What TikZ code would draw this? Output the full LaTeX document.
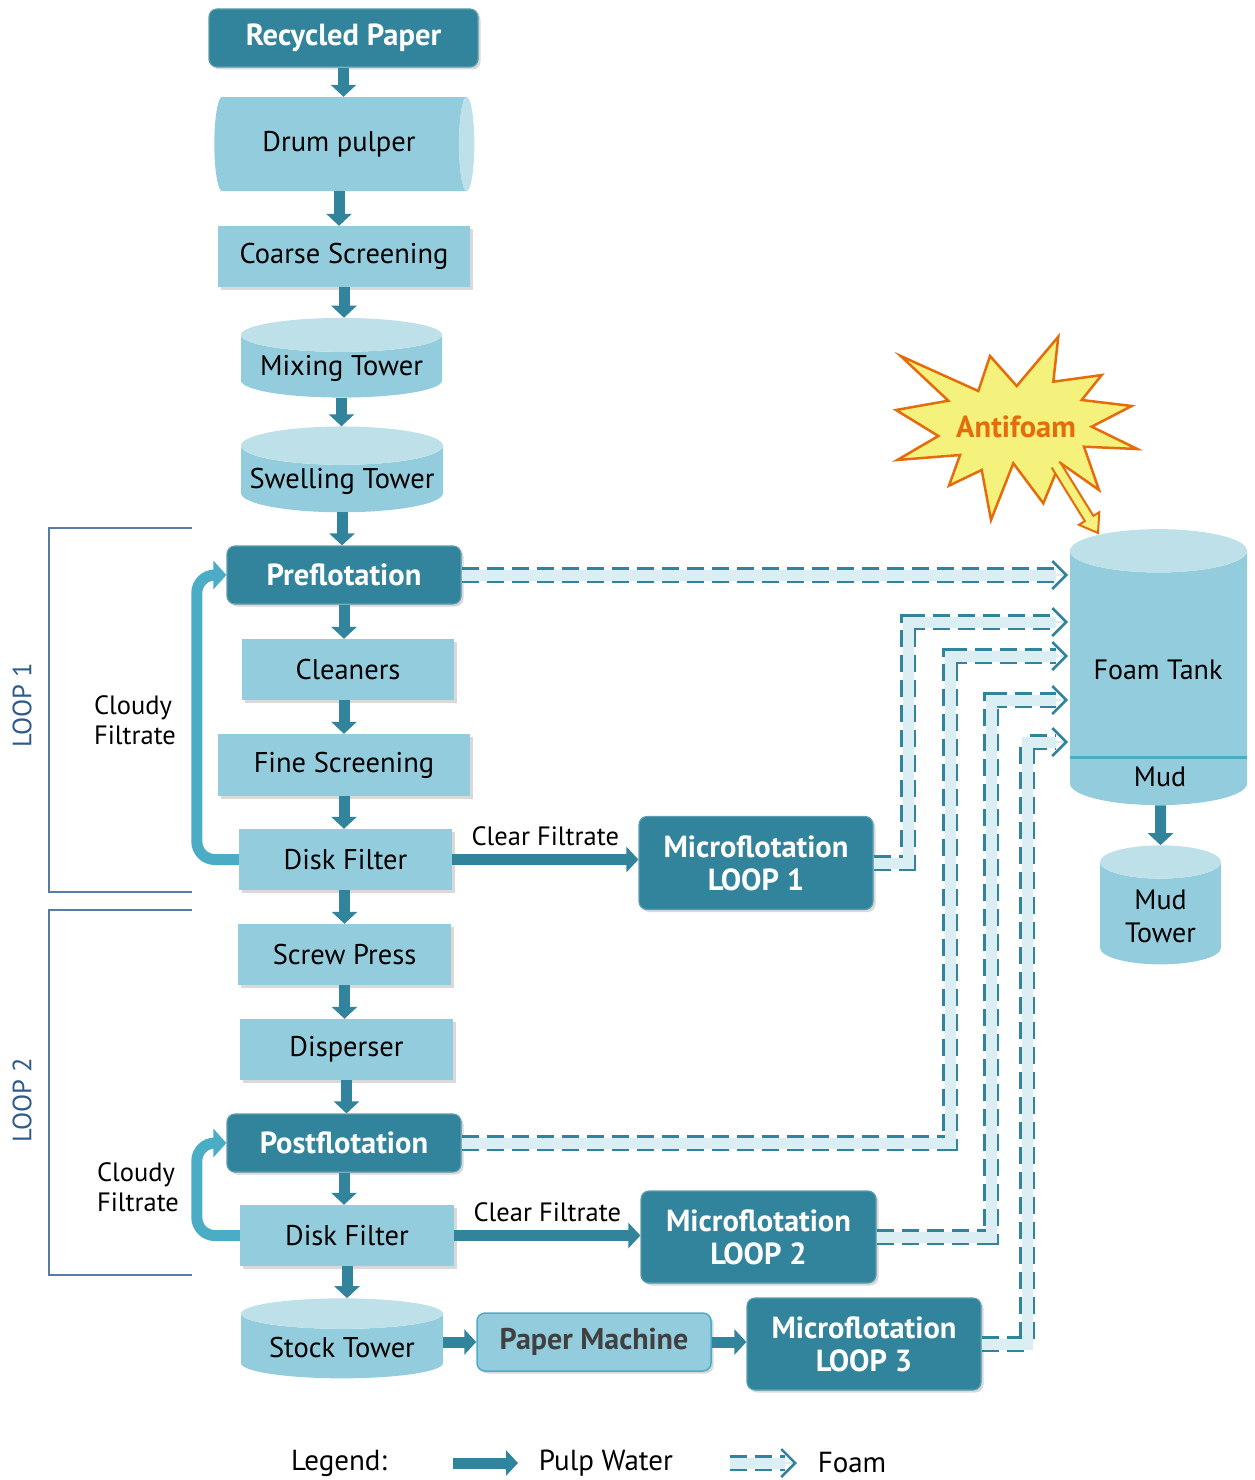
\documentclass[tikz,border=0pt]{standalone}
\usepackage{fontspec}
\setmainfont{PT Sans}
\usetikzlibrary{shapes.geometric,shadows,arrows.meta,calc}
\definecolor{pulpteal}{HTML}{31849B}
\definecolor{boxaqua}{HTML}{93CDDD}
\definecolor{topaqua}{HTML}{BEE0E9}
\definecolor{cloudaqua}{HTML}{4BACC6}
\definecolor{foamfill}{HTML}{DAEEF3}
\definecolor{loopblue}{HTML}{2E5A8C}
\definecolor{burstfill}{HTML}{F4F17C}
\definecolor{burstline}{HTML}{E46C0A}

\tikzset{
  boxshadow/.style={drop shadow={shadow xshift=2.5pt, shadow yshift=-2.5pt, opacity=.3}},
  darkbox/.style={rectangle, rounded corners=8pt, fill=pulpteal, draw=pulpteal!80!white, line width=1.2pt,
    text=white, align=center, font=\fontsize{30.5}{33}\selectfont\bfseries, boxshadow},
  lightbox/.style={rectangle, fill=boxaqua, font=\fontsize{28.5}{33}\selectfont, boxshadow},
  tower/.style={cylinder, shape border rotate=90, cylinder uses custom fill, cylinder body fill=boxaqua,
    cylinder end fill=topaqua, align=center, font=\fontsize{28.5}{33}\selectfont},
  pulp/.style={draw=pulpteal, line width=11pt, -{Triangle[length=12pt, width=25pt]}},
  cloudy/.style={draw=cloudaqua, line width=11pt, rounded corners=18pt, -{Triangle[length=13pt, width=28pt]}},
  foam/.style={draw=pulpteal, line width=16pt, dash pattern=on 17pt off 8pt, line join=miter, shorten >=12pt,
    preaction={draw=foamfill, solid},
    postaction={draw=foamfill, solid, line width=11pt},
    postaction={draw=foamfill, solid, line width=2.5pt, shorten >=0pt,
      -{Straight Barb[color=pulpteal, length=14pt, width=28pt]}}},
  smalltext/.style={font=\fontsize{26.5}{30}\selectfont},
  legendtext/.style={font=\fontsize{29}{33}\selectfont},
  bracket/.style={draw=loopblue!80!white, line width=1.3pt},
  looplabel/.style={rotate=90, text=loopblue, font=\fontsize{26.5}{30}\selectfont},
}

\begin{document}
\begin{tikzpicture}[x=1pt, y=-1pt]
\useasboundingbox (0,0) rectangle (1255,1480);

% main line
\node[darkbox, minimum width=269, minimum height=58] (paper) at (343.5,38) {Recycled Paper};
\node[cylinder, cylinder uses custom fill, cylinder body fill=boxaqua, cylinder end fill=topaqua, aspect=0.47,
  minimum width=94, minimum height=260, font=\fontsize{28.5}{33}\selectfont] (drum) at (339,144) {Drum pulper};
\node[lightbox, minimum width=252, minimum height=61] (coarse) at (344,256.5) {Coarse Screening};
\node[tower, aspect=0.2, minimum width=201, minimum height=79] (mixing) at (341.5,368.5) {Mixing Tower};
\node[tower, aspect=0.2, minimum width=202, minimum height=79] (swelling) at (342,481.5) {Swelling Tower};
\node[darkbox, minimum width=234, minimum height=58] (preflot) at (344,575) {Preflotation};
\node[lightbox, minimum width=212, minimum height=61] (cleaners) at (348,669.5) {Cleaners};
\node[lightbox, minimum width=252, minimum height=62] (fine) at (344,765) {Fine Screening};
\node[lightbox, minimum width=213, minimum height=61] (diskA) at (345.5,859.5) {Disk Filter};
\node[lightbox, minimum width=213, minimum height=61] (screw) at (344.5,954.5) {Screw Press};
\node[lightbox, minimum width=213, minimum height=61] (disperser) at (346.5,1049.5) {Disperser};
\node[darkbox, minimum width=234, minimum height=58] (postflot) at (344,1143) {Postflotation};
\node[lightbox, minimum width=214, minimum height=61] (diskB) at (347,1235.5) {Disk Filter};
\node[tower, aspect=0.2, minimum width=202, minimum height=80] (stock) at (342,1348) {Stock Tower};
\node[rectangle, rounded corners=8pt, fill=boxaqua, draw=cloudaqua, line width=1.5pt, text=black!75,
  font=\fontsize{30}{33}\selectfont\bfseries, minimum width=234, minimum height=58, boxshadow] (machine) at (594,1342) {Paper Machine};

% microflotation
\node[darkbox, minimum width=234, minimum height=93] (microA) at (756,863) {Microflotation\\LOOP 1};
\node[darkbox, minimum width=235, minimum height=92] (microB) at (758.5,1237) {Microflotation\\LOOP 2};
\node[darkbox, minimum width=234, minimum height=92] (microC) at (864,1344) {Microflotation\\LOOP 3};

% foam side
\node[tower, aspect=0.32, minimum width=177, minimum height=276, font=\fontsize{28}{33}\selectfont] (foamtank) at (1158.5,681) {\phantom{Foam Tank}};
\node[font=\fontsize{28}{33}\selectfont] (foamlbl) at (1158,670) {Foam Tank};
\draw[cloudaqua, line width=3pt] (foamtank.west |- 0,757) -- (foamtank.east |- 0,757);
\node[font=\fontsize{28}{33}\selectfont] (mudlbl) at (1160,777) {Mud};
\node[tower, aspect=0.43, minimum width=121, minimum height=119, font=\fontsize{28}{33}\selectfont] (mudtower) at (1160.5,916) {Mud\\Tower};

% antifoam
\draw[fill=burstfill, draw=burstline, line width=2.5pt, line join=miter]
  (1058.3,336.7) -- (1053.3,381.7) -- (1101.7,375) -- (1081.7,400) -- (1131.7,406) -- (1091.7,426.7)
  -- (1137.3,449) -- (1084,446.7) -- (1099,490) -- (1060,462.7) -- (1043.3,503.3) -- (1013.3,463.3)
  -- (991,520) -- (981.7,470) -- (949,485.7) -- (960,455) -- (897.3,460) -- (938.3,436) -- (896,410)
  -- (948.3,400.7) -- (900.7,356) -- (978.3,391) -- (990,356) -- (1016.7,386) -- cycle;
\node[text=burstline, font=\fontsize{30.5}{33}\selectfont\bfseries] (antifoam) at (1016,427) {Antifoam};
\draw[fill=burstfill, draw=burstline, line width=2pt, line join=miter]
  (1060.3,462.4) -- (1093.4,515.9) -- (1099.3,512.2) -- (1098,533) -- (1078.9,524.8) -- (1084.8,521.1)
  -- (1051.7,467.6);

% pulp water arrows
\draw[pulp] (paper.south) -- (paper.south |- drum.north);
\draw[pulp] (drum.south) -- (drum.south |- coarse.north);
\draw[pulp] (coarse.south) -- (coarse.south |- mixing.north);
\draw[pulp] (mixing.south) -- (mixing.south |- swelling.north);
\draw[pulp] (swelling.south) -- (swelling.south |- preflot.north);
\draw[pulp] (preflot.south) -- (preflot.south |- cleaners.north);
\draw[pulp] (cleaners.south -| fine) -- (fine.north);
\draw[pulp] (fine.south) -- (fine.south |- diskA.north);
\draw[pulp] (diskA.south -| screw) -- (screw.north);
\draw[pulp] (screw.south) -- (screw.south |- disperser.north);
\draw[pulp] (disperser.south) -- (disperser.south |- postflot.north);
\draw[pulp] (postflot.south) -- (postflot.south |- diskB.north);
\draw[pulp] (diskB.south) -- (diskB.south |- stock.north);
\draw[pulp] (stock.east |- machine.west) -- (machine.west);
\draw[pulp] (machine.east) -- (machine.east -| microC.west);
\draw[pulp] (foamtank.south -| mudtower) -- (mudtower.north);

% clear filtrate
\draw[pulp] (diskA.east) -- (diskA.east -| microA.west)
  node[pos=0.5, above=5pt, text=black, smalltext] (clearA) {Clear Filtrate};
\draw[pulp] (diskB.east) -- (diskB.east -| microB.west)
  node[pos=0.5, above=5pt, text=black, smalltext] (clearB) {Clear Filtrate};

% cloudy filtrate
\draw[cloudy] (diskA.west) -- ++(-42,0) |- (preflot.west);
\draw[cloudy] (diskB.west) -- ++(-43,0) |- (postflot.west);
\node[smalltext, align=left] (cloudyA) at (135,720) {Cloudy\\Filtrate};
\node[smalltext, align=left] (cloudyB) at (138,1187) {Cloudy\\Filtrate};

% loops
\draw[bracket] (192,528) -| (49,892) -- (192,892);
\draw[bracket] (192,910) -| (49,1275) -- (192,1275);
\node[looplabel] (loopA) at (22,705) {LOOP 1};
\node[looplabel] (loopB) at (22,1100) {LOOP 2};

% foam
\coordinate (inA) at (1068,575);
\coordinate (inB) at (1068,622);
\coordinate (inC) at (1068,656);
\coordinate (inD) at (1068,700);
\coordinate (inE) at (1068,742);
\draw[foam] (preflot.east) -- (inA);
\draw[foam] (microA.east) -| ([xshift=-160pt]inB) -- (inB);
\draw[foam] (postflot.east) -| ([xshift=-118pt]inC) -- (inC);
\draw[foam] (microB.east) -| ([xshift=-77pt]inD) -- (inD);
\draw[foam] (microC.east) -| ([xshift=-41pt]inE) -- (inE);

% legend
\node[legendtext] (legend) at (339,1463) {Legend:};
\coordinate (pulpA) at (453,1463);
\coordinate (pulpB) at (518,1463);
\draw[pulp] (pulpA) -- (pulpB);
\node[legendtext] (pulplbl) at (606,1463) {Pulp Water};
\coordinate (foamA) at (730,1463);
\coordinate (foamB) at (797,1463);
\draw[foam] (foamA) -- (foamB);
\node[legendtext] (foamlegend) at (852,1463) {Foam};
\end{tikzpicture}
\end{document}
